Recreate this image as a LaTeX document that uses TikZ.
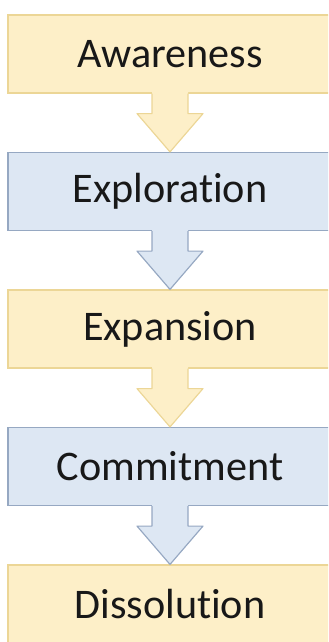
\documentclass[tikz,border=0pt]{standalone}
\usepackage{fontspec}
\setmainfont[Ligatures=NoCommon]{Carlito}
\usetikzlibrary{calc}

\definecolor{stageyellow}{RGB}{253,239,200}
\definecolor{yellowline}{RGB}{236,214,150}
\definecolor{stageblue}{RGB}{221,231,243}
\definecolor{blueline}{RGB}{150,168,194}
\definecolor{stagetext}{RGB}{24,24,24}

\tikzset{
  stage/.style={draw, line width=1pt, rectangle, minimum width=9.72cm,
    minimum height=2.34cm, text=stagetext,
    font=\fontsize{36}{42}\selectfont},
  yellowstage/.style={stage, fill=stageyellow, draw=yellowline},
  bluestage/.style={stage, fill=stageblue, draw=blueline}
}

\begin{document}
\begin{tikzpicture}[x=0.03cm, y=-0.03cm]

    % these coordinates guarantee the graph's total size
    \useasboundingbox (0,0) rectangle (328,642);
    \clip (0,0) rectangle (328,642);

    %stages
    \node (aw) at (170,54) [yellowstage] {Awareness};
    \node (ex) at (170,191.5) [bluestage] {Exploration};
    \node (ep) at (170,329) [yellowstage] {Expansion};
    \node (co) at (170,466.5) [bluestage] {Commitment};
    \node (di) at (170,604) [yellowstage] {Dissolution};

    %block arrows between the stages
    \foreach \a/\b/\f/\l in {aw/ex/stageyellow/yellowline,
        ex/ep/stageblue/blueline, ep/co/stageyellow/yellowline,
        co/di/stageblue/blueline}
    {
    \fill[\f] ($(\a.south)+(-18,-2)$) -- ++(0,22) -- ++(-15,0) -- (\b.north)
      -- ($(\a.south)+(33,20)$) -- ++(-15,0) -- ++(0,-22) -- cycle;
    \draw[\l, line width=1pt, line join=round] ($(\a.south)+(-18,0)$)
      -- ++(0,20) -- ++(-15,0) -- (\b.north) -- ($(\a.south)+(33,20)$)
      -- ++(-15,0) -- ++(0,-20);
    }

\end{tikzpicture}
\end{document}
